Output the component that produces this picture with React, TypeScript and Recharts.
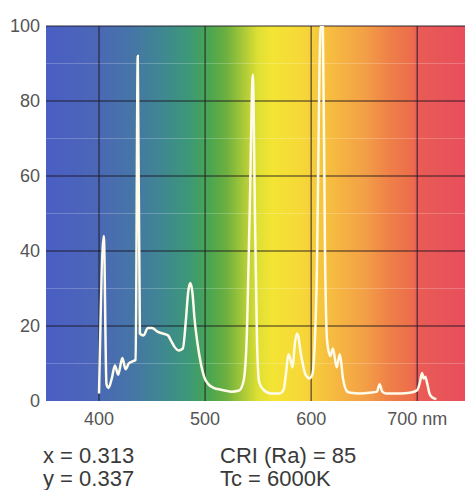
import {
  LineChart,
  Line,
  XAxis,
  YAxis,
  ReferenceArea,
  ReferenceLine,
} from "recharts";

// wavelength (nm) and relative spectral power
const wavelengths = [
  400, 404.5, 407, 409, 412, 415, 418, 422, 425, 428, 431, 434.5, 436.5, 438.5,
  442, 446, 450, 455, 460, 465, 468, 471, 475, 479, 482, 484, 486, 488, 490,
  493, 496, 499, 503, 508, 515, 525, 532, 536, 539, 542, 545, 547, 549, 551,
  555, 562, 570, 574, 576.5, 578.5, 580.5, 582.5, 584.5, 586.5, 588, 590, 592,
  594, 596, 598, 601, 605, 609, 611, 613, 615, 618, 620.5, 624, 627, 630, 634,
  637, 646, 655, 662, 664.5, 667, 671, 684, 693, 700, 702.5, 704.5, 706, 707.5,
  709.5, 711.5, 714, 718,
];
const power = [
  2, 44, 4.5, 3.5, 6, 9.5, 7, 11.5, 8.5, 10, 10.5, 11, 92, 18, 17.5, 19.5,
  19.5, 18.5, 18, 17.5, 16, 14.5, 13.5, 14, 22, 29, 31.5, 29, 22, 15, 10, 6.5,
  4.5, 3.5, 3, 2.5, 2.8, 5, 15, 50, 87, 50, 15, 5, 3, 2, 2, 3, 8, 12.5, 11,
  9, 15, 18, 17, 13, 10, 7.5, 6.5, 6, 7, 30, 100, 100, 40, 16, 12, 14, 9, 12.5,
  6, 2.5, 2.2, 2, 2.2, 2.5, 4.5, 2.5, 2, 2, 2.2, 2.9, 5, 7.5, 6, 6.5, 4.5, 2,
  1, 0.5,
];

const xTicks = [400, 500, 600, 700];
const yTicks = [0, 20, 40, 60, 80, 100];
const majorY = [20, 40, 60, 80, 100];
const minorY = [10, 30, 50, 70, 90];

const data = wavelengths.map((nm, i) => ({ nm, value: power[i] }));

const spectrum: [number, string][] = [
  [0, "#4a5ec4"],
  [0.11, "#4b66b8"],
  [0.2, "#4674a8"],
  [0.28, "#3f8890"],
  [0.34, "#3c9878"],
  [0.39, "#4aa550"],
  [0.43, "#6cb040"],
  [0.47, "#a8c838"],
  [0.505, "#dde034"],
  [0.54, "#f4e434"],
  [0.61, "#f6d838"],
  [0.68, "#f6bc40"],
  [0.76, "#f3a046"],
  [0.82, "#ef8048"],
  [0.875, "#ec6c4c"],
  [0.885, "#e95c56"],
  [1, "#e84e5c"],
];

const font = "'Liberation Sans', Arial, sans-serif";

const App = () => {
  return (
    <div
      style={{
        position: "absolute",
        left: 0,
        top: 0,
        width: 465,
        height: 490,
        background: "#fff",
        fontFamily: font,
      }}
    >
      <LineChart
        width={465}
        height={490}
        data={data}
        margin={{ top: 26, right: 0, left: 0, bottom: 59 }}
      >
        <defs>
          <linearGradient id="spec" x1="0" y1="0" x2="1" y2="0">
            {spectrum.map(([o, c]) => (
              <stop key={o} offset={o} stopColor={c} />
            ))}
          </linearGradient>
        </defs>
        <XAxis
          dataKey="nm"
          type="number"
          domain={[350, 745]}
          ticks={xTicks}
          tickFormatter={(v) => (v === 700 ? "700 nm" : String(v))}
          axisLine={false}
          tickLine={false}
          tickSize={0}
          tickMargin={11}
          height={30}
          tick={{ fill: "#555", fontSize: 18, fontFamily: font }}
        />
        <YAxis
          type="number"
          domain={[0, 100]}
          ticks={yTicks}
          allowDataOverflow
          axisLine={false}
          tickLine={false}
          tickSize={0}
          tickMargin={6}
          width={46}
          tick={{ fill: "#555", fontSize: 18, fontFamily: font }}
        />
        <ReferenceArea
          x1={350}
          x2={745}
          y1={0}
          y2={100}
          fill="url(#spec)"
          fillOpacity={1}
          stroke="none"
        />
        {minorY.map((v) => (
          <ReferenceLine
            key={"m" + v}
            y={v}
            stroke="#ffffff"
            strokeOpacity={0.22}
            strokeWidth={1}
          />
        ))}
        {majorY.map((v) => (
          <ReferenceLine
            key={"y" + v}
            y={v}
            stroke="#1a1420"
            strokeOpacity={0.6}
            strokeWidth={1.5}
          />
        ))}
        {xTicks.map((v) => (
          <ReferenceLine
            key={"x" + v}
            x={v}
            stroke="#1a1420"
            strokeOpacity={0.6}
            strokeWidth={1.5}
          />
        ))}
        <Line
          dataKey="value"
          type="monotone"
          stroke="#fffbea"
          strokeWidth={2.5}
          dot={false}
          isAnimationActive={false}
        />
      </LineChart>
      <svg
        width={465}
        height={490}
        style={{ position: "absolute", left: 0, top: 0, pointerEvents: "none" }}
      >
        <g fill="#3a3a3a" fontSize={22} fontFamily={font}>
          <text x={43} y={463}>x = 0.313</text>
          <text x={43} y={486}>y = 0.337</text>
          <text x={220} y={463}>CRI (Ra) = 85</text>
          <text x={220} y={486}>Tc = 6000K</text>
        </g>
      </svg>
    </div>
  );
};

export default App;
